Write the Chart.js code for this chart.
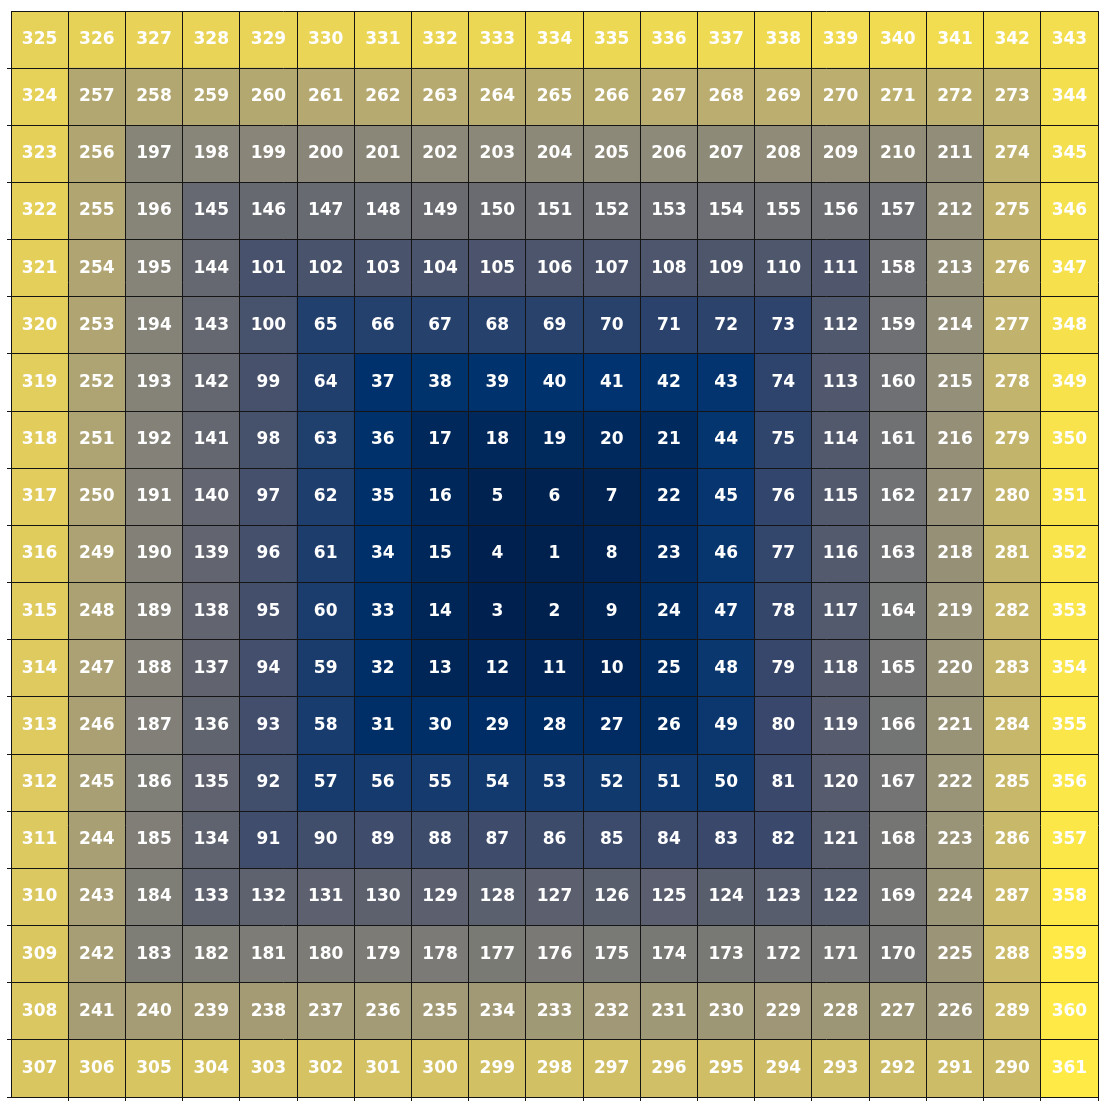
<!DOCTYPE html>
<html>
<head>
<meta charset="utf-8">
<script src="https://cdn.jsdelivr.net/npm/chart.js@4.4.1/dist/chart.umd.min.js"></script>
<style>
  html, body { margin: 0; padding: 0; background: #ffffff; }
  #wrap { width: 1108px; height: 1108px; }
</style>
</head>
<body>
<div id="wrap"><canvas id="c" width="1108" height="1108"></canvas></div>
<script>
// Ulam-spiral values, one array per row (top to bottom)
const row00 = [325,326,327,328,329,330,331,332,333,334,335,336,337,338,339,340,341,342,343];
const row01 = [324,257,258,259,260,261,262,263,264,265,266,267,268,269,270,271,272,273,344];
const row02 = [323,256,197,198,199,200,201,202,203,204,205,206,207,208,209,210,211,274,345];
const row03 = [322,255,196,145,146,147,148,149,150,151,152,153,154,155,156,157,212,275,346];
const row04 = [321,254,195,144,101,102,103,104,105,106,107,108,109,110,111,158,213,276,347];
const row05 = [320,253,194,143,100,65,66,67,68,69,70,71,72,73,112,159,214,277,348];
const row06 = [319,252,193,142,99,64,37,38,39,40,41,42,43,74,113,160,215,278,349];
const row07 = [318,251,192,141,98,63,36,17,18,19,20,21,44,75,114,161,216,279,350];
const row08 = [317,250,191,140,97,62,35,16,5,6,7,22,45,76,115,162,217,280,351];
const row09 = [316,249,190,139,96,61,34,15,4,1,8,23,46,77,116,163,218,281,352];
const row10 = [315,248,189,138,95,60,33,14,3,2,9,24,47,78,117,164,219,282,353];
const row11 = [314,247,188,137,94,59,32,13,12,11,10,25,48,79,118,165,220,283,354];
const row12 = [313,246,187,136,93,58,31,30,29,28,27,26,49,80,119,166,221,284,355];
const row13 = [312,245,186,135,92,57,56,55,54,53,52,51,50,81,120,167,222,285,356];
const row14 = [311,244,185,134,91,90,89,88,87,86,85,84,83,82,121,168,223,286,357];
const row15 = [310,243,184,133,132,131,130,129,128,127,126,125,124,123,122,169,224,287,358];
const row16 = [309,242,183,182,181,180,179,178,177,176,175,174,173,172,171,170,225,288,359];
const row17 = [308,241,240,239,238,237,236,235,234,233,232,231,230,229,228,227,226,289,360];
const row18 = [307,306,305,304,303,302,301,300,299,298,297,296,295,294,293,292,291,290,361];

const gridRows = [row00,row01,row02,row03,row04,row05,row06,row07,row08,row09,
                  row10,row11,row12,row13,row14,row15,row16,row17,row18];
const nRows = gridRows.length;
const nCols = row00.length;

// cividis colormap anchors
const cividis = ['#00204D','#00336F','#39486B','#575C6D','#707173',
                 '#8A8779','#A69D75','#C4B56C','#E4CF5B','#FFEA46'];
function hexToRgb(h){ return [parseInt(h.slice(1,3),16),parseInt(h.slice(3,5),16),parseInt(h.slice(5,7),16)]; }
const cividisRgb = cividis.map(hexToRgb);
function cmap(t){
  t = Math.max(0, Math.min(1, t));
  const p = t * (cividisRgb.length - 1);
  const i = Math.min(Math.floor(p), cividisRgb.length - 2);
  const f = p - i;
  const a = cividisRgb[i], b = cividisRgb[i+1];
  return 'rgb(' + [0,1,2].map(k => Math.round(a[k] + (b[k]-a[k])*f)).join(',') + ')';
}

let vmin = Infinity, vmax = -Infinity;
gridRows.forEach(r => r.forEach(v => { vmin = Math.min(vmin, v); vmax = Math.max(vmax, v); }));

const cells = [], colors = [], labels = [];
gridRows.forEach((row, r) => {
  row.forEach((v, c) => {
    cells.push({ x: c + 0.5, y: [r, r + 1] });
    colors.push(cmap((v - vmin) / (vmax - vmin)));
    labels.push(String(v));
  });
});

const lineCol = '#151515';
function tickCol(ctx){ return (ctx.tick && ctx.tick.value === 0) ? 'rgba(0,0,0,0)' : lineCol; }
function intTicks(n){ return scale => { scale.ticks = []; for (let i = 0; i <= n; i++) scale.ticks.push({ value: i }); }; }

const cellText = {
  id: 'cellText',
  afterDatasetsDraw(chart){
    const ctx = chart.ctx;
    const meta = chart.getDatasetMeta(0);
    ctx.save();
    ctx.fillStyle = '#ffffff';
    ctx.font = 'bold 17px "DejaVu Sans"';
    ctx.textAlign = 'center';
    ctx.textBaseline = 'middle';
    meta.data.forEach((bar, i) => {
      const p = bar.getProps(['x','y','base'], true);
      ctx.fillText(labels[i], p.x, (p.y + p.base) / 2);
    });
    ctx.restore();
  }
};

new Chart(document.getElementById('c'), {
  type: 'bar',
  data: {
    datasets: [{
      data: cells,
      backgroundColor: colors,
      borderWidth: 0,
      barPercentage: 1,
      categoryPercentage: 1
    }]
  },
  options: {
    responsive: false,
    animation: false,
    layout: { padding: { left: 7, top: 11, right: 10, bottom: 7 } },
    plugins: { legend: { display: false }, tooltip: { enabled: false } },
    scales: {
      x: {
        type: 'linear', min: 0, max: nCols, offset: false,
        afterBuildTicks: intTicks(nCols),
        ticks: { display: false, stepSize: 1 },
        grid: { offset: false, z: 1, color: lineCol, lineWidth: 1, drawTicks: true, tickLength: 4, tickColor: tickCol },
        border: { display: true, z: 1, color: lineCol, width: 1 }
      },
      y: {
        type: 'linear', min: 0, max: nRows, reverse: true,
        afterBuildTicks: intTicks(nRows),
        ticks: { display: false, stepSize: 1 },
        grid: { z: 1, color: lineCol, lineWidth: 1, drawTicks: true, tickLength: 4, tickColor: tickCol },
        border: { display: true, z: 1, color: lineCol, width: 1 }
      }
    }
  },
  plugins: [cellText]
});
</script>
</body>
</html>
